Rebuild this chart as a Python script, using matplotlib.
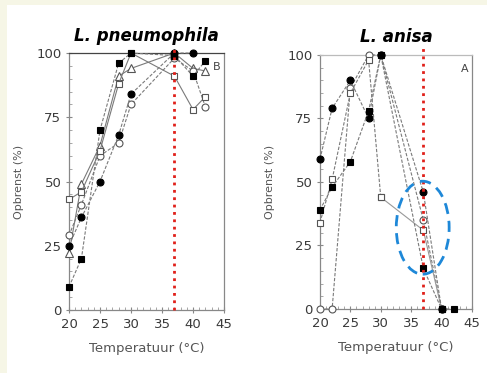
import matplotlib
matplotlib.use("Agg")
import matplotlib.pyplot as plt
from matplotlib.patches import Ellipse, Rectangle
from matplotlib.ticker import MultipleLocator

# L. pneumophila (panel B)
PN_TEMP = [20, 22, 25, 28, 30, 37, 40, 42]
PN_FILLED_SQ = [9, 20, 70, 96, 100, 99, 91, 97]
PN_FILLED_CI = [25, 36, 50, 68, 84, 100, 100]
PN_OPEN_SQ = [43, 46, 62, 88, 100, 91, 78, 83]
PN_OPEN_CI = [29, 41, 60, 65, 80, 98, 93, 79]
PN_OPEN_TR = [22, 49, 64, 91, 94, 100, 94, 93]

# L. anisa (panel A)
AN_TEMP = [20, 22, 25, 28, 30, 37, 40]
AN_FILLED_CI = [59, 79, 90, 75, 100, 46, 0]
AN_FILLED_SQ_T = [20, 22, 25, 28, 30, 37, 40, 42]
AN_FILLED_SQ = [39, 48, 58, 78, 100, 16, 0, 0]
AN_OPEN_SQ = [34, 51, 85, 98, 44, 31, 0]
AN_OPEN_CI = [0, 0, 87, 100, 100, 35, 0]

OPT_TEMP = 37
LINE_C = "#7a7a7a"
EDGE_C = "#555555"


def series(ax, x, y, marker, filled, ls="--"):
    ax.plot(x, y, ls=ls, color=LINE_C, lw=0.8, dashes=(3, 1.5) if ls == "--" else (None, None),
            marker=marker, ms=5 if marker != "^" else 5.5,
            mfc="black" if filled else "white",
            mec="black" if filled else EDGE_C, mew=0.8, clip_on=False, zorder=3)


def style_axes(ax, title, letter):
    ax.set_xlim(20, 45)
    ax.set_ylim(0, 100)
    ax.set_xticks([20, 25, 30, 35, 40, 45])
    ax.set_yticks([0, 25, 50, 75, 100])
    ax.xaxis.set_minor_locator(MultipleLocator(1))
    ax.yaxis.set_minor_locator(MultipleLocator(5))
    ax.tick_params(axis="both", which="major", labelsize=9.5, labelcolor="#3a3a3a",
                   color="#888888", length=4, direction="inout")
    ax.tick_params(axis="both", which="minor", color="#999999", length=2, direction="in")
    for sp in ax.spines.values():
        sp.set_color("#888888")
        sp.set_linewidth(0.9)
    ax.set_xlabel("Temperatuur (°C)", fontsize=9.5, color="#555555", labelpad=8)
    ax.set_ylabel("Opbrenst (%)", fontsize=8, color="#555555", labelpad=9)
    ax.set_title(title, fontsize=12, fontweight="bold", style="italic", pad=9)
    ax.text(0.975, 0.965, letter, transform=ax.transAxes, ha="right", va="top",
            fontsize=8, color="#444444")
    ax.axvline(OPT_TEMP, ymin=0, ymax=1.03, color="#e0201a", ls=":", lw=2.0,
               clip_on=False, zorder=4)


fig = plt.figure(figsize=(4.87, 3.73), dpi=100)
fig.patch.set_facecolor("#f6f6e6")
fig.add_artist(Rectangle((7 / 487, 0), 1, 1 - 5 / 373, transform=fig.transFigure,
                         facecolor="white", edgecolor="none", zorder=-1))

ax1 = fig.add_axes([0.1417, 0.1689, 0.3183, 0.689])
ax2 = fig.add_axes([0.657, 0.1716, 0.3121, 0.681])

series(ax1, PN_TEMP, PN_OPEN_TR, "^", False, ls="-")
series(ax1, PN_TEMP, PN_OPEN_CI, "o", False)
series(ax1, PN_TEMP, PN_OPEN_SQ, "s", False, ls="-")
series(ax1, PN_TEMP[:len(PN_FILLED_CI)], PN_FILLED_CI, "o", True)
series(ax1, PN_TEMP, PN_FILLED_SQ, "s", True)
style_axes(ax1, "L. pneumophila", "B")
ax1.spines["top"].set_color("#444444")

series(ax2, AN_TEMP, AN_OPEN_CI, "o", False)
ax2.plot(AN_TEMP[:5], AN_OPEN_SQ[:5], ls="--", dashes=(3, 1.5), color=LINE_C, lw=0.8,
         marker="s", ms=5, mfc="white", mec=EDGE_C, mew=0.8, clip_on=False, zorder=3)
ax2.plot(AN_TEMP[4:], AN_OPEN_SQ[4:], ls="-", color="#999999", lw=0.8,
         marker="s", ms=5, mfc="white", mec=EDGE_C, mew=0.8, clip_on=False, zorder=3)
series(ax2, AN_TEMP, AN_FILLED_CI, "o", True)
series(ax2, AN_FILLED_SQ_T, AN_FILLED_SQ, "s", True)
style_axes(ax2, "L. anisa", "A")
ax2.spines["top"].set_color("#bbbbbb")

ax2.add_patch(Ellipse((36.9, 32), 8.7, 36.6, fill=False, edgecolor="#1e88d8",
                      lw=2, ls=(0, (4, 2.5)), zorder=5))

fig.savefig("out.png", dpi=100, facecolor=fig.get_facecolor())
